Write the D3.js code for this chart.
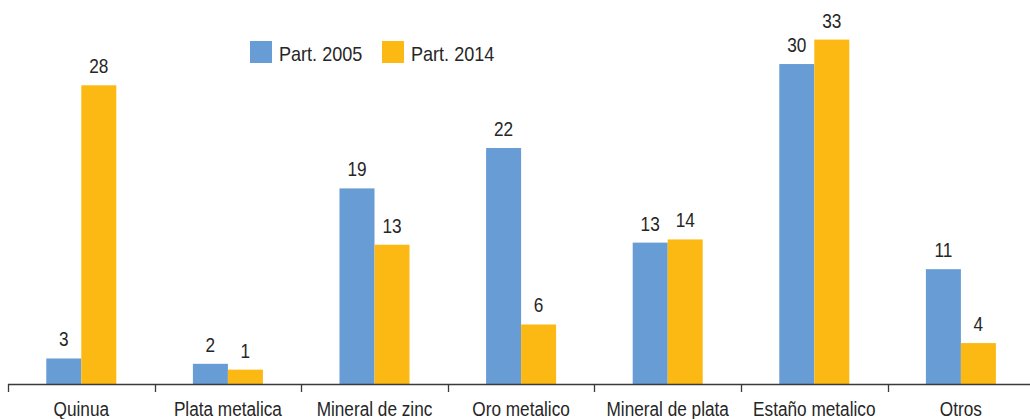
<!DOCTYPE html>
<html lang="es">
<head>
<meta charset="utf-8">
<title>Participación de exportaciones</title>
<script src="https://cdn.jsdelivr.net/npm/d3@7"></script>
<style>
  body { margin: 0; background: #fff; }
  text { font-family: "Liberation Sans", sans-serif; fill: #262626; }
</style>
</head>
<body>
<div id="chart"></div>
<script>
// categories and series
var categories = ["Quinua", "Plata metalica", "Mineral de zinc", "Oro metalico",
                  "Mineral de plata", "Estaño metalico", "Otros"];
var seriesNames = ["Part. 2005", "Part. 2014"];
// bar heights
var part2005 = [2.4, 1.9, 18.4, 22.2, 13.3, 30.1, 10.8];
var part2014 = [28.1, 1.35, 13.1, 5.6, 13.6, 32.4, 3.85];
// labels as printed on the chart
var labels2005 = ["3", "2", "19", "22", "13", "30", "11"];
var labels2014 = ["28", "1", "13", "6", "14", "33", "4"];

var colors = ["#679cd5", "#fdb913"];

var W = 1030, H = 419;
var baseY = 384;

var svg = d3.select("#chart").append("svg")
    .attr("width", W)
    .attr("height", H);

var x0 = d3.scaleBand()
    .domain(categories)
    .range([8, 8 + 146.6 * categories.length]);

var x1 = d3.scaleBand()
    .domain(seriesNames)
    .range([0, x0.bandwidth()])
    .paddingOuter(1.094);

var y = d3.scaleLinear()
    .domain([0, 10])
    .range([baseY, baseY - 106.3]);

var rows = categories.map(function(c, i) {
    return {
        cat: c,
        vals: [
            {s: seriesNames[0], v: part2005[i], lab: labels2005[i], k: 0},
            {s: seriesNames[1], v: part2014[i], lab: labels2014[i], k: 1}
        ]
    };
});

// original font is a condensed one, so squeeze the text a bit
function condense(sel) {
    sel.each(function() {
        var w = this.getComputedTextLength();
        d3.select(this)
          .attr("textLength", w * 0.86)
          .attr("lengthAdjust", "spacingAndGlyphs");
    });
}

var groups = svg.selectAll("g.grp")
    .data(rows)
    .enter()
    .append("g")
    .attr("class", "grp")
    .attr("transform", function(d) { return "translate(" + x0(d.cat) + ",0)"; });

groups.selectAll("rect")
    .data(function(d) { return d.vals; })
    .enter()
    .append("rect")
    .attr("x", function(d) { return x1(d.s); })
    .attr("y", function(d) { return y(d.v); })
    .attr("width", x1.bandwidth())
    .attr("height", function(d) { return y(0) - y(d.v); })
    .attr("fill", function(d) { return colors[d.k]; });

groups.selectAll("text.val")
    .data(function(d) { return d.vals; })
    .enter()
    .append("text")
    .attr("class", "val")
    .attr("x", function(d) { return x1(d.s) + x1.bandwidth() / 2; })
    .attr("y", function(d) { return y(d.v) - 12; })
    .attr("text-anchor", "middle")
    .style("font-size", "20px")
    .text(function(d) { return d.lab; })
    .call(condense);

// axis: baseline with ticks between categories
var axis = svg.append("g").attr("class", "axis");
axis.append("line")
    .attr("x1", x0.range()[0]).attr("x2", W)
    .attr("y1", baseY + 0.5).attr("y2", baseY + 0.5)
    .attr("stroke", "#3a3a3a").attr("stroke-width", 1.3);
axis.selectAll("line.tick")
    .data(categories)
    .enter()
    .append("line")
    .attr("class", "tick")
    .attr("x1", function(d) { return Math.round(x0(d)) + 0.5; })
    .attr("x2", function(d) { return Math.round(x0(d)) + 0.5; })
    .attr("y1", baseY).attr("y2", baseY + 8)
    .attr("stroke", "#3a3a3a").attr("stroke-width", 1.3);
axis.selectAll("text.cat")
    .data(categories)
    .enter()
    .append("text")
    .attr("class", "cat")
    .attr("x", function(d) { return x0(d) + x0.bandwidth() / 2; })
    .attr("y", 416)
    .attr("text-anchor", "middle")
    .style("font-size", "20px")
    .text(function(d) { return d; })
    .call(condense);

// legend
var legendX = [250, 382];
var legend = svg.selectAll("g.leg")
    .data(seriesNames)
    .enter()
    .append("g")
    .attr("class", "leg")
    .attr("transform", function(d, i) { return "translate(" + legendX[i] + ",41)"; });
legend.append("rect")
    .attr("width", 22).attr("height", 22)
    .attr("fill", function(d, i) { return colors[i]; });
legend.append("text")
    .attr("x", 29).attr("y", 20)
    .style("font-size", "21px")
    .text(function(d) { return d; })
    .call(condense);
</script>
</body>
</html>
